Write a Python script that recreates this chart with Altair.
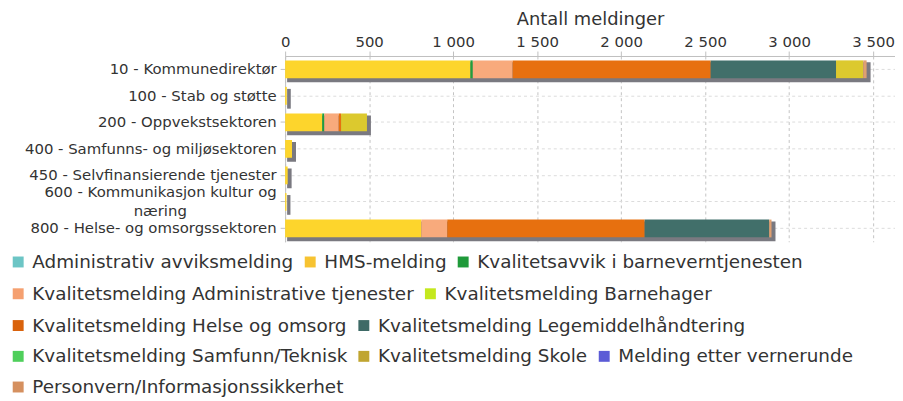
import altair as alt
import pandas as pd

categories = [
    "10 - Kommunedirektør",
    "100 - Stab og støtte",
    "200 - Oppvekstsektoren",
    "400 - Samfunns- og miljøsektoren",
    "450 - Selvfinansierende tjenester",
    "600 - Kommunikasjon kultur og næring",
    "800 - Helse- og omsorgssektoren",
]

series_names = [
    "Administrativ avviksmelding",
    "HMS-melding",
    "Kvalitetsavvik i barneverntjenesten",
    "Kvalitetsmelding Administrative tjenester",
    "Kvalitetsmelding Barnehager",
    "Kvalitetsmelding Helse og omsorg",
    "Kvalitetsmelding Legemiddelhåndtering",
    "Kvalitetsmelding Samfunn/Teknisk",
    "Kvalitetsmelding Skole",
    "Melding etter vernerunde",
    "Personvern/Informasjonssikkerhet",
]

# legend swatch colours
series_colors = [
    "#6cc5c5", "#f7c331", "#1f9a3a", "#f5a070", "#c4e81e", "#d9620c",
    "#3e6a66", "#4fcf5b", "#c0a530", "#5b5bd6", "#d5905f",
]
# bar fill colours (bars carry a lighter sheen than the swatches)
bar_colors = [
    "#7fd3d3", "#fdd52c", "#1fa03c", "#f8aa7c", "#cdee2a", "#e7700f",
    "#416f6a", "#58d664", "#dcc92e", "#6464e0", "#e0a070",
]

adm_avvik = [0, 0, 0, 0, 0, 0, 0]
hms = [1103, 10, 221, 41, 15, 8, 811]
barnevern = [14, 0, 12, 0, 0, 0, 0]
adm_tjenester = [237, 0, 86, 0, 0, 0, 154]
barnehager = [0, 0, 0, 0, 0, 0, 0]
helse = [1179, 0, 14, 0, 0, 0, 1175]
legemiddel = [746, 0, 0, 0, 0, 0, 741]
samfunn = [0, 0, 0, 0, 0, 0, 0]
skole = [162, 0, 154, 0, 0, 0, 0]
vernerunde = [0, 0, 0, 0, 0, 0, 0]
personvern = [20, 0, 0, 0, 0, 0, 14]

series_values = [adm_avvik, hms, barnevern, adm_tjenester, barnehager, helse,
                 legemiddel, samfunn, skole, vernerunde, personvern]

legend_rows = [
    ["Administrativ avviksmelding", "HMS-melding", "Kvalitetsavvik i barneverntjenesten"],
    ["Kvalitetsmelding Administrative tjenester", "Kvalitetsmelding Barnehager"],
    ["Kvalitetsmelding Helse og omsorg", "Kvalitetsmelding Legemiddelhåndtering"],
    ["Kvalitetsmelding Samfunn/Teknisk", "Kvalitetsmelding Skole", "Melding etter vernerunde"],
    ["Personvern/Informasjonssikkerhet"],
]

x_ticks = [0, 500, 1000, 1500, 2000, 2500, 3000, 3500]
wrapped_category = "600 - Kommunikasjon kultur og næring"
wrapped_lines = ["600 - Kommunikasjon kultur og", "næring"]

rows = []
for si, (name, vals) in enumerate(zip(series_names, series_values)):
    for ci, cat in enumerate(categories):
        rows.append({"kategori": cat, "serie": name, "antall": vals[ci], "rekkefolge": si})
df = pd.DataFrame(rows)

FONT = "DejaVu Sans"
TXT = "#333333"

x_scale = alt.Scale(domain=[0, 3630], nice=False)
x_axis = alt.Axis(
    orient="top", values=x_ticks, title="Antall meldinger",
    labelExpr="replace(format(datum.value, ','), ',', ' ')",
    grid=True, gridDash=[3, 3], gridColor="#c4c4c4",
    domainColor="#c0c0c0", tickColor="#c0c0c0", tickSize=5,
    labelFontSize=15, labelColor=TXT, labelPadding=2, labelFlush=False,
    titleFontSize=18, titleFontWeight="normal", titleColor=TXT, titlePadding=6,
)

# trailing no-break spaces (kept by a zero-width space) centre the wrapped word
pad = "\u00a0" * 19 + "\u200b"
label_expr = (
    f"datum.value == '{wrapped_category}' ? "
    f"['{wrapped_lines[0]}', '{wrapped_lines[1]}{pad}'] : datum.value"
)
y_axis = alt.Axis(
    title=None, labelFontSize=15, labelColor=TXT, labelPadding=4,
    tickSize=5, tickColor="#c0c0c0", domainColor="#c0c0c0",
    grid=True, gridDash=[3, 3], gridColor="#dcdcdc",
    labelLimit=0, labelLineHeight=19, labelExpr=label_expr,
    labelOffset={"condition": {"test": f"datum.value == '{wrapped_category}'", "value": -10}, "value": 0},
)
y_scale = alt.Scale(paddingInner=0.33, paddingOuter=0.165)
y_enc = alt.Y("kategori:N", sort=categories, scale=y_scale, axis=y_axis)

shadow = (
    alt.Chart(df)
    .transform_aggregate(total="sum(antall)", groupby=["kategori"])
    .mark_bar(color="#7a7980", stroke="#7a7980", strokeWidth=2, xOffset=3, yOffset=3)
    .encode(x=alt.X("total:Q", scale=x_scale, axis=x_axis), y=y_enc)
)

bars = (
    alt.Chart(df)
    .transform_filter("datum.antall > 0")
    .mark_bar()
    .encode(
        x=alt.X("antall:Q", stack="zero", scale=x_scale, axis=x_axis),
        y=y_enc,
        color=alt.Color("serie:N", scale=alt.Scale(domain=series_names, range=bar_colors), legend=None),
        order=alt.Order("rekkefolge:Q"),
    )
)

color_of = dict(zip(series_names, series_colors))
legend_y = [198, 230, 262, 293, 324]
legend_layers = []
for i, row in enumerate(legend_rows):
    legend_layers.append(
        alt.Chart(df)
        .transform_filter(alt.FieldOneOfPredicate(field="serie", oneOf=row))
        .mark_square(opacity=0)
        .encode(
            color=alt.Color(
                "serie:N",
                scale=alt.Scale(domain=row, range=[color_of[s] for s in row]),
                legend=alt.Legend(
                    orient="none", legendX=-278, legendY=legend_y[i],
                    direction="horizontal", title=None,
                    symbolType="square", symbolSize=121, symbolOpacity=1,
                    symbolStrokeWidth=0,
                    labelFontSize=18.5, labelFont=FONT, labelColor=TXT,
                    labelOffset=5, columnPadding=7, padding=0, labelLimit=0,
                ),
            )
        )
    )

chart = (
    alt.layer(shadow, bars, *legend_layers)
    .resolve_scale(color="independent")
    .properties(
        width=614, height=187,
        autosize=alt.AutoSizeParams(type="none"),
        padding={"left": 279, "top": 47, "right": 0, "bottom": 158},
    )
    .configure(font=FONT)
    .configure_view(stroke=None)
)

chart.save("out.html", embed_options={"renderer": "svg", "actions": False})
